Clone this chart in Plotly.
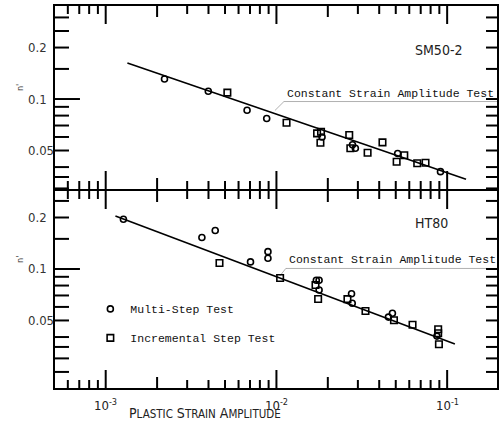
import math
import plotly.graph_objects as go
from plotly.subplots import make_subplots

# ---- SM50-2 (upper panel) ----
sm_multi_x = [0.00221, 0.00399, 0.00673, 0.00877, 0.0185, 0.0279, 0.0290, 0.0513, 0.0914]
sm_multi_y = [0.131, 0.111, 0.086, 0.077, 0.060, 0.054, 0.0515, 0.048, 0.0376]
sm_incr_x = [0.00516, 0.01146, 0.0173, 0.01825, 0.0181, 0.0267, 0.0271, 0.0342,
             0.0418, 0.0561, 0.0506, 0.0668, 0.0747]
sm_incr_y = [0.109, 0.0726, 0.063, 0.0644, 0.0555, 0.0616, 0.0515, 0.0485,
             0.0558, 0.0469, 0.0430, 0.0421, 0.0424]
sm_const_x = [0.00134, 0.129]
sm_const_y = [0.1625, 0.034]

# ---- HT80 (lower panel) ----
ht_multi_x = [0.00127, 0.00366, 0.00438, 0.00705, 0.00892, 0.00892, 0.01713, 0.01778,
              0.01778, 0.02754, 0.0278, 0.0453, 0.0478, 0.0871]
ht_multi_y = [0.1955, 0.1527, 0.168, 0.110, 0.1263, 0.1155, 0.0859, 0.0859,
              0.0754, 0.0717, 0.0630, 0.0523, 0.0551, 0.0405]
ht_incr_x = [0.00464, 0.01051, 0.01694, 0.01755, 0.02606, 0.03324, 0.0488, 0.0627,
             0.0886, 0.0886, 0.0895]
ht_incr_y = [0.1084, 0.0886, 0.0806, 0.0668, 0.0666, 0.0568, 0.0501, 0.0472,
             0.0444, 0.0421, 0.0363]
ht_const_x = [0.00114, 0.111]
ht_const_y = [0.204, 0.0364]

# ---- axis ticks and labels ----
x_decades = [1e-3, 1e-2, 1e-1]
x_decade_text = ["10<sup>-3</sup>", "10<sup>-2</sup>", "10<sup>-1</sup>"]
x_ticks = sorted([m * d for d in (1e-4, 1e-3, 1e-2, 1e-1) for m in range(1, 10)])
x_ticks = [v for v in x_ticks if 5.1e-4 < v < 0.199]

y_ticks = [0.025, 0.03, 0.035, 0.04, 0.05, 0.06, 0.07, 0.08, 0.09, 0.1, 0.15, 0.2, 0.25, 0.3]
y_labelled = [0.05, 0.1, 0.2]
y_label_text = ["0.05", "0.1", "0.2"]

# axis ranges (log10 units) and pixels per decade
X_RANGE = [-3.297, -0.708]
Y1_RANGE = [-1.526, -0.456]
Y2_RANGE = [-1.696, -0.544]
PX_PER_DECADE = 171.0

MONO = "Liberation Mono"
NARROW = "DejaVu Sans Condensed"

fig = make_subplots(rows=2, cols=1, shared_xaxes=True, vertical_spacing=0)

circle = dict(symbol="circle-open", size=6, color="black", line=dict(width=1.6, color="black"))
square = dict(symbol="square-open", size=6.5, color="black", line=dict(width=1.6, color="black"))
fit_line = dict(color="black", width=1.6)


def x_tick_len(v):
    """Tick length in pixels for the strain axis."""
    if any(abs(v / d - 1) < 1e-6 for d in x_decades):
        return 18
    if any(abs(v / (2 * d) - 1) < 1e-6 for d in (1e-3, 1e-2)):
        return 11
    return 8


def tick_marks(x_range, y_range):
    """Inward tick segments on all four edges of one panel (log10 ranges)."""
    xs, ys = [], []
    xlo, xhi = x_range
    ylo, yhi = y_range
    for v in x_ticks:
        d = x_tick_len(v) / PX_PER_DECADE
        xs += [v, v, None, v, v, None]
        ys += [10 ** ylo, 10 ** (ylo + d), None, 10 ** (yhi - d), 10 ** yhi, None]
    for v in y_ticks:
        if not (10 ** ylo < v < 10 ** yhi):
            continue
        left = (25 if abs(v - 0.1) < 1e-9 else 14) / PX_PER_DECADE
        right = 11 / PX_PER_DECADE
        xs += [10 ** xlo, 10 ** (xlo + left), None, 10 ** (xhi - right), 10 ** xhi, None]
        ys += [v, v, None, v, v, None]
    return xs, ys


# upper panel
fig.add_trace(go.Scatter(x=sm_const_x, y=sm_const_y, mode="lines", line=fit_line,
                         showlegend=False, hoverinfo="skip"), row=1, col=1)
fig.add_trace(go.Scatter(x=sm_multi_x, y=sm_multi_y, mode="markers", marker=circle,
                         name="Multi-Step Test", legendgroup="multi", showlegend=False), row=1, col=1)
fig.add_trace(go.Scatter(x=sm_incr_x, y=sm_incr_y, mode="markers", marker=square,
                         name="Incremental Step Test", legendgroup="incr", showlegend=False), row=1, col=1)

# lower panel
fig.add_trace(go.Scatter(x=ht_const_x, y=ht_const_y, mode="lines", line=fit_line,
                         showlegend=False, hoverinfo="skip"), row=2, col=1)
fig.add_trace(go.Scatter(x=ht_multi_x, y=ht_multi_y, mode="markers", marker=circle,
                         name="Multi-Step Test", legendgroup="multi"), row=2, col=1)
fig.add_trace(go.Scatter(x=ht_incr_x, y=ht_incr_y, mode="markers", marker=square,
                         name="Incremental Step Test", legendgroup="incr"), row=2, col=1)

# tick marks on every frame edge
for row, yrng in ((1, Y1_RANGE), (2, Y2_RANGE)):
    tx, ty = tick_marks(X_RANGE, yrng)
    fig.add_trace(go.Scatter(x=tx, y=ty, mode="lines", connectgaps=False,
                             line=dict(color="#000000", width=2, simplify=False),
                             showlegend=False, hoverinfo="skip"), row=row, col=1)

# plain framed axes; tick marks and labels are drawn separately
frame = dict(type="log", showline=True, linecolor="black", linewidth=2, mirror=True,
             ticks="", showticklabels=False, tickmode="array", tickvals=[],
             showgrid=False, zeroline=False)
fig.update_xaxes(range=X_RANGE, **frame)
fig.update_yaxes(**frame)
fig.update_layout(
    yaxis=dict(domain=[0.521, 1.0], range=Y1_RANGE),
    yaxis2=dict(domain=[0.0, 0.5157], range=Y2_RANGE),
)

# strain decade labels under the lower panel
for v, t in zip(x_decades, x_decade_text):
    fig.add_annotation(xref="x2", yref="paper", x=math.log10(v), y=-0.018,
                       xanchor="center", yanchor="top", text=t, showarrow=False,
                       font=dict(family=NARROW, size=13, color="#222"))

# n' labels on the left of both panels
for yr in ("y", "y2"):
    for v, t in zip(y_labelled, y_label_text):
        fig.add_annotation(xref="paper", yref=yr, x=-0.066, y=math.log10(v),
                           xanchor="left", yanchor="middle", text=t, showarrow=False,
                           font=dict(family=NARROW, size=13, color="#333"))

# "Constant Strain Amplitude Test" callouts
callouts = [
    # (axis suffix, point on fit line, elbow)
    ("", (0.0098, 0.0857), (0.01107, 0.0967)),
    ("2", (0.01047, 0.0910), (0.01135, 0.1007)),
]
for sfx, (px, py), (ex, ey) in callouts:
    xr, yr = "x" + sfx, "y" + sfx
    fig.add_shape(type="line", xref=xr, yref=yr, x0=px, y0=py, x1=ex, y1=ey,
                  line=dict(color="black", width=1))
    fig.add_shape(type="line", xref=xr, yref=yr, x0=ex, y0=ey, x1=10 ** X_RANGE[1], y1=ey,
                  line=dict(color="black", width=1))
    fig.add_annotation(xref=xr, yref=yr, x=math.log10(ex * 1.01), y=math.log10(ey),
                       xanchor="left", yanchor="bottom", showarrow=False,
                       text="Constant Strain Amplitude Test",
                       font=dict(family=MONO, size=11.5, color="#111"))

# material labels
fig.add_annotation(xref="x", yref="y", x=math.log10(0.0886), y=math.log10(0.1937),
                   text="SM50-2", showarrow=False,
                   font=dict(family=NARROW, size=14, color="#222"))
fig.add_annotation(xref="x2", yref="y2", x=math.log10(0.0807), y=math.log10(0.1858),
                   text="HT80", showarrow=False,
                   font=dict(family=NARROW, size=14, color="#222"))

# y-axis symbol for each panel
for yr, yv in (("y", 0.116), ("y2", 0.113)):
    fig.add_annotation(xref="paper", yref=yr, x=-0.095, y=math.log10(yv), text="n'",
                       textangle=-90, showarrow=False,
                       font=dict(family=NARROW, size=9, color="#333"))

# x-axis title in small caps
small = "<span style='font-size:11.5px'>{}</span>"
xtitle = ("P" + small.format("LASTIC") + " S" + small.format("TRAIN") +
          " A" + small.format("MPLITUDE"))
fig.add_annotation(xref="paper", yref="paper", x=0.34, y=-0.092, text=xtitle,
                   showarrow=False, font=dict(family=NARROW, size=14, color="#222"))

fig.update_layout(
    template="simple_white",
    width=501, height=435,
    margin=dict(l=55, r=2, t=6, b=47),
    paper_bgcolor="white", plot_bgcolor="rgba(0,0,0,0)",
    showlegend=True,
    legend=dict(x=0.08, y=0.245, xanchor="left", yanchor="top",
                bgcolor="rgba(0,0,0,0)", tracegroupgap=10,
                font=dict(family=MONO, size=11.5, color="#111")),
)

fig.write_html("out.html")
